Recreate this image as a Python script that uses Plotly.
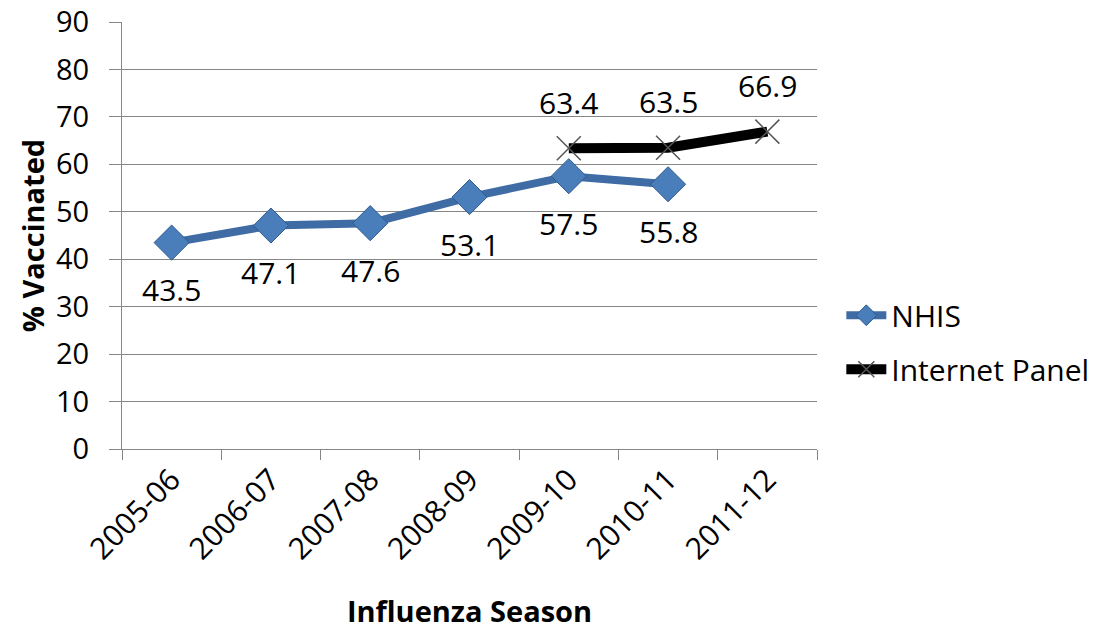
import plotly.graph_objects as go

seasons = ["2005-06", "2006-07", "2007-08", "2008-09", "2009-10", "2010-11", "2011-12"]
nhis = [43.5, 47.1, 47.6, 53.1, 57.5, 55.8, None]
panel = [None, None, None, None, 63.4, 63.5, 66.9]
y_ticks = [0, 10, 20, 30, 40, 50, 60, 70, 80, 90]

FONT = "Open Sans"
fig = go.Figure()
fig.add_trace(go.Scatter(
    x=seasons, y=nhis, name="NHIS", mode="lines+markers", legendgroup="a",
    line=dict(color="#3F6CA4", width=8),
    marker=dict(symbol="diamond", size=27, color="#4A7EBB",
                line=dict(color="#2F5A8E", width=1)),
))
fig.add_trace(go.Scatter(
    x=seasons, y=panel, name="Internet Panel", mode="lines+markers", legendgroup="b",
    line=dict(color="#000000", width=10),
    marker=dict(symbol="x-thin", size=24, color="#555555",
                line=dict(color="#555555", width=1.5)),
))

for s, v in zip(seasons, nhis):
    if v is not None:
        fig.add_annotation(x=s, y=v, text=f"{v}", showarrow=False, yshift=-47,
                           font=dict(family=FONT, size=30, color="#000"))
for s, v in zip(seasons, panel):
    if v is not None:
        fig.add_annotation(x=s, y=v, text=f"{v}", showarrow=False, yshift=46,
                           font=dict(family=FONT, size=30, color="#000"))

fig.update_layout(
    width=1107, height=630,
    margin=dict(l=122, r=290, t=22, b=181),
    paper_bgcolor="white", plot_bgcolor="white",
    font=dict(family=FONT, size=30, color="#000"),
    legend=dict(x=1.035, y=0.25, xanchor="left", yanchor="middle",
                font=dict(family=FONT, size=30), itemwidth=40,
                tracegroupgap=12),
    showlegend=True,
)
fig.update_xaxes(
    type="category", tickangle=-45, ticks="outside", tickson="boundaries",
    ticklen=10, tickcolor="#868686", showline=True, linecolor="#868686",
    showgrid=False, range=[-0.5, 6.5], automargin=False,
    tickfont=dict(family=FONT, size=30), ticklabeloverflow="allow",
    title=dict(text="<b>Influenza Season</b>", font=dict(family=FONT, size=29), standoff=36),
)
fig.update_yaxes(
    range=[0, 90], tickvals=y_ticks, ticks="outside", ticklen=12,
    tickcolor="#868686", showline=True, linecolor="#868686", automargin=False,
    showgrid=True, gridcolor="#868686", gridwidth=1, zeroline=False,
    tickfont=dict(family=FONT, size=29), ticklabeloverflow="allow",
    ticklabelstandoff=14,
    title=dict(text="<b>% Vaccinated</b>", font=dict(family=FONT, size=29), standoff=2),
)
fig.write_html("out.html", config={"displayModeBar": False},
               post_script="document.body.style.margin='0';")
